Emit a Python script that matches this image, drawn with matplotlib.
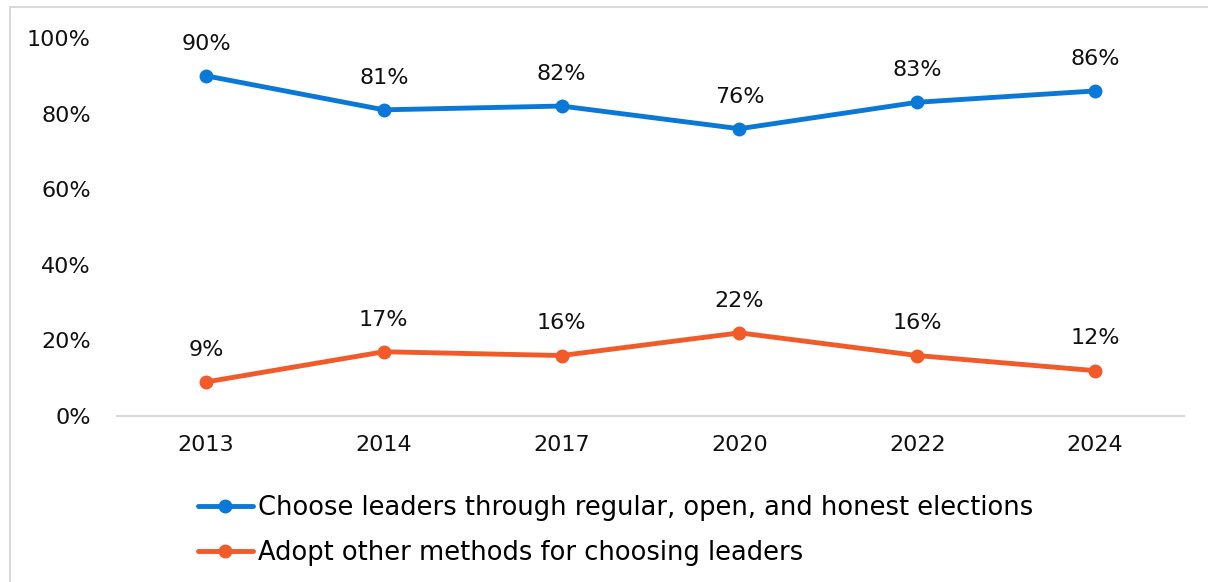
import matplotlib.pyplot as plt
from matplotlib.patches import Rectangle
from matplotlib.ticker import PercentFormatter

years = ["2013", "2014", "2017", "2020", "2022", "2024"]
elections = [90, 81, 82, 76, 83, 86]
other = [9, 17, 16, 22, 16, 12]
labels = ["Choose leaders through regular, open, and honest elections",
          "Adopt other methods for choosing leaders"]

blue = "#0A78D7"
orange = "#F15A29"
plt.rcParams['font.family'] = ['DejaVu Sans']

fig = plt.figure(figsize=(12.08, 5.82), dpi=100)
ax = fig.add_axes([0.0969, 0.2852, 0.8833, 0.6495])

x = list(range(len(years)))
for vals, color, lab in [(elections, blue, labels[0]), (other, orange, labels[1])]:
    ax.plot(x, vals, color=color, lw=3.5, marker='o', ms=9, label=lab,
            solid_capstyle='round')
    for xi, v in zip(x, vals):
        ax.annotate(f"{v}%", (xi, v), xytext=(0, 16), textcoords='offset points',
                    ha='center', va='bottom', fontsize=16, color='#111111')

ax.set_xlim(-0.5, len(years) - 0.5)
ax.set_ylim(0, 100)
ax.set_xticks(x)
ax.set_xticklabels(years)
ax.set_yticks(range(0, 101, 20))
ax.yaxis.set_major_formatter(PercentFormatter(decimals=0))
ax.tick_params(axis='both', length=0, labelsize=16, colors='#111111')
ax.tick_params(axis='x', pad=14)
ax.tick_params(axis='y', pad=19)
for s in ['top', 'right', 'left']:
    ax.spines[s].set_visible(False)
ax.spines['bottom'].set_color('#D9D9D9')
ax.spines['bottom'].set_linewidth(1.5)

leg = fig.legend(loc='upper left', bbox_to_anchor=(0.155, 0.168), frameon=False,
                 fontsize=18.5, handlelength=2.15, handletextpad=0.2, labelspacing=0.75,
                 borderaxespad=0)

fig.patches.append(Rectangle((10 / 1208, -0.1), 1.2, (582 - 7) / 582 + 0.1,
                             transform=fig.transFigure, fill=False,
                             edgecolor='#D9D9D9', lw=1.5))

fig.savefig("out.png", dpi=100)
